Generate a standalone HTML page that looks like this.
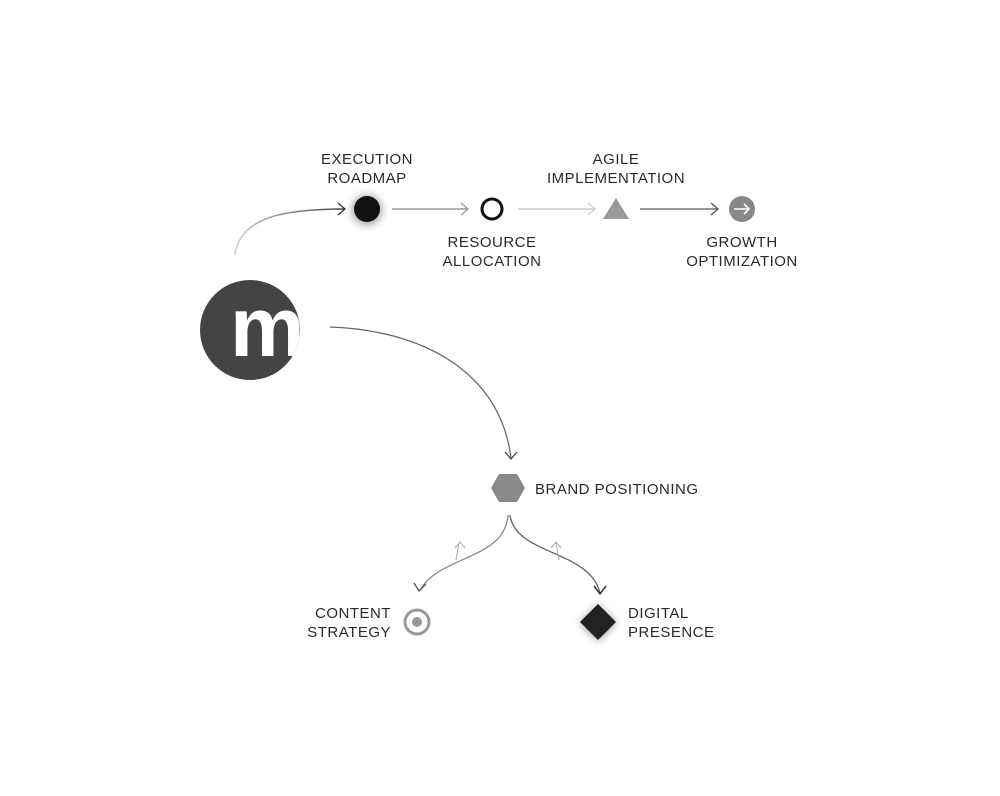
<!DOCTYPE html>
<html><head><meta charset="utf-8"><style>
html,body{margin:0;padding:0;background:#fff;}
svg text{font-family:"Liberation Sans",sans-serif;font-size:15px;fill:#2a2a2a;letter-spacing:0.5px;}
</style></head><body>
<svg width="1000" height="791" viewBox="0 0 1000 791" xmlns="http://www.w3.org/2000/svg">
<defs>
<filter id="glow" x="-1" y="-1" width="3" height="3"><feGaussianBlur stdDeviation="4"/></filter>
<linearGradient id="g1" x1="0" y1="0" x2="1" y2="0"><stop offset="0" stop-color="#ccc"/><stop offset="1" stop-color="#444"/></linearGradient>
<clipPath id="cc"><circle cx="250" cy="330" r="50"/></clipPath>
</defs>
<!-- logo -->
<circle cx="250" cy="330" r="50" fill="#444"/>
<text x="230" y="356" clip-path="url(#cc)" style="font-size:84px;font-weight:bold;fill:#fff;letter-spacing:0">m</text>
<!-- curve to execution -->
<path d="M235 255 C240 215 290 209 345 209" stroke="url(#g1)" stroke-width="1.5" fill="none"/>
<path d="M338 203 L345 209 L338 215" stroke="#333" stroke-width="1.3" fill="none"/>
<!-- nodes top -->
<circle cx="367" cy="210" r="15" fill="#666" filter="url(#glow)" opacity="0.6"/>
<circle cx="367" cy="209" r="13" fill="#111"/>
<line x1="392" y1="209" x2="468" y2="209" stroke="#999" stroke-width="1.5"/>
<path d="M461 203 L468 209 L461 215" stroke="#999" stroke-width="1.3" fill="none"/>
<circle cx="492" cy="209" r="10" fill="none" stroke="#111" stroke-width="3"/>
<line x1="518" y1="209" x2="595" y2="209" stroke="#ccc" stroke-width="1.5"/>
<path d="M588 203 L595 209 L588 215" stroke="#ccc" stroke-width="1.3" fill="none"/>
<polygon points="616,198 629,219 603,219" fill="#999"/>
<line x1="640" y1="209" x2="718" y2="209" stroke="#777" stroke-width="1.5"/>
<path d="M711 203 L718 209 L711 215" stroke="#555" stroke-width="1.3" fill="none"/>
<circle cx="742" cy="209" r="13" fill="#888"/>
<path d="M734 209 H749 M744 204 L749 209 L744 214" stroke="#fff" stroke-width="1.6" fill="none"/>
<text x="367" y="164" text-anchor="middle">EXECUTION</text>
<text x="367" y="183" text-anchor="middle">ROADMAP</text>
<text x="492" y="247" text-anchor="middle">RESOURCE</text>
<text x="492" y="266" text-anchor="middle">ALLOCATION</text>
<text x="616" y="164" text-anchor="middle">AGILE</text>
<text x="616" y="183" text-anchor="middle">IMPLEMENTATION</text>
<text x="742" y="247" text-anchor="middle">GROWTH</text>
<text x="742" y="266" text-anchor="middle">OPTIMIZATION</text>
<!-- curve to brand -->
<path d="M330 327 C420 330 500 370 511 458" stroke="#666" stroke-width="1.3" fill="none"/>
<path d="M505 452 L511 459 L517 452" stroke="#444" stroke-width="1.3" fill="none"/>
<polygon points="499,474 517,474 525,488 517,502 499,502 491,488" fill="#8a8a8a"/>
<text x="535" y="494">BRAND POSITIONING</text>
<!-- branches -->
<path d="M508 515 C505 560 440 555 420 590" stroke="#888" stroke-width="1.3" fill="none"/>
<path d="M414 583 L419 591 L426 584" stroke="#555" stroke-width="1.3" fill="none"/>
<path d="M510 515 C515 555 590 550 600 593" stroke="#666" stroke-width="1.3" fill="none"/>
<path d="M594 586 L600 594 L606 586" stroke="#333" stroke-width="1.5" fill="none"/>
<path d="M456 560 L459 543 M455 548 L460 542 L465 548" stroke="#aaa" stroke-width="1" fill="none"/>
<path d="M559 560 L556 543 M551 548 L556 542 L561 548" stroke="#aaa" stroke-width="1" fill="none"/>
<circle cx="417" cy="622" r="12" fill="none" stroke="#999" stroke-width="3"/>
<circle cx="417" cy="622" r="5" fill="#999"/>
<text x="391" y="618" text-anchor="end">CONTENT</text>
<text x="391" y="637" text-anchor="end">STRATEGY</text>
<polygon points="598,605 616,623 598,641 580,623" fill="#555" filter="url(#glow)" opacity="0.6"/>
<polygon points="598,604 616,622 598,640 580,622" fill="#222"/>
<text x="628" y="618">DIGITAL</text>
<text x="628" y="637">PRESENCE</text>
</svg>
</body></html>
